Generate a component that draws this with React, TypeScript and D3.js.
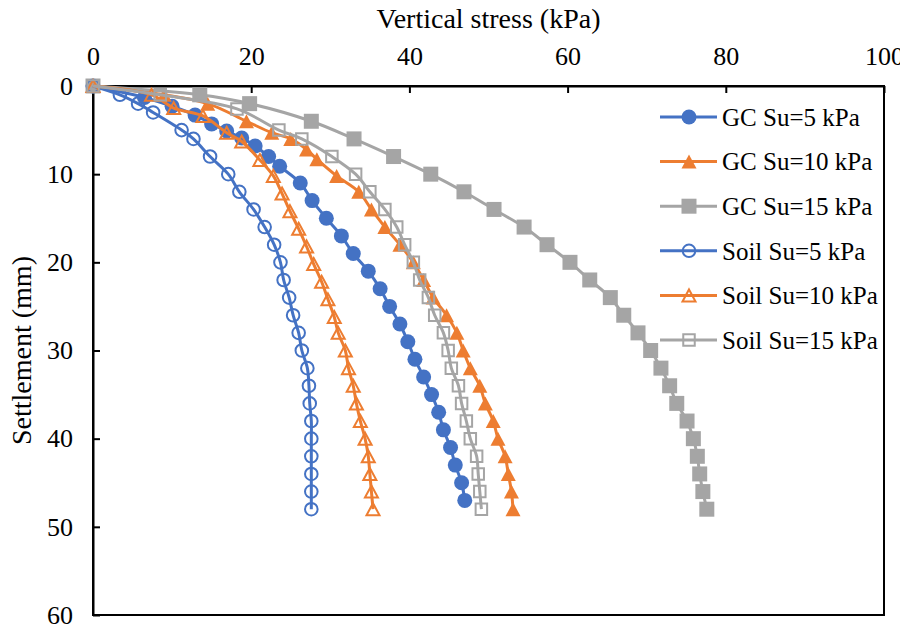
import React, { useEffect, useRef } from 'react';
import * as d3 from 'd3';

// [vertical stress (kPa), settlement (mm)]
const gcSu5: [number, number][] = [
  [0, 0], [6.5, 1.3], [10, 2.3], [12.9, 3.3], [15, 4.3], [16.9, 5.1], [18.8, 5.9],
  [20.5, 6.8], [22.2, 8], [23.6, 9.1], [26.2, 11], [27.7, 13], [29.5, 15], [31.4, 17],
  [32.9, 19], [34.8, 21], [36.3, 23], [37.5, 25], [38.8, 27], [39.8, 29], [40.7, 31],
  [41.8, 33], [42.8, 35], [43.7, 37], [44.3, 39], [45.2, 41], [45.8, 43], [46.6, 45], [47, 47],
];
const gcSu10: [number, number][] = [
  [0, 0], [9, 1], [14.5, 2], [19.4, 4], [22.6, 5.3], [25, 6], [27, 7.2], [28.3, 8.3],
  [30.8, 10.2], [33.6, 12], [35.2, 14], [36.9, 16], [38.8, 18], [40.5, 20], [41.8, 22],
  [43, 24], [44.7, 26], [46, 28], [46.8, 30], [47.7, 32], [48.9, 34], [49.6, 36],
  [50.6, 38], [51.2, 40], [52.1, 42], [52.5, 44], [52.9, 46], [53.1, 48],
];
const gcSu15: [number, number][] = [
  [0, 0], [13.5, 1], [19.8, 2], [27.6, 4], [33, 6], [38, 8], [42.7, 10], [46.9, 12],
  [50.7, 14], [54.5, 16], [57.4, 18], [60.3, 20], [62.8, 22], [65.4, 24], [67.1, 26],
  [68.9, 28], [70.5, 30], [71.8, 32], [72.9, 34], [73.8, 36], [75.1, 38], [75.9, 40],
  [76.4, 42], [76.7, 44], [77.1, 46], [77.6, 48],
];
const soilSu5: [number, number][] = [
  [0, 0], [3.4, 1], [5.7, 2], [7.6, 3], [11.2, 5], [12.7, 6], [14.8, 8], [17.1, 10],
  [18.5, 12], [20.3, 14], [21.7, 16], [22.9, 18], [23.7, 20], [24.1, 22], [24.8, 24],
  [25.3, 26], [26, 28], [26.4, 30], [27.1, 32], [27.3, 34], [27.4, 36], [27.6, 38],
  [27.6, 40], [27.6, 42], [27.6, 44], [27.6, 46], [27.6, 48],
];
const soilSu10: [number, number][] = [
  [0, 0], [7.4, 1], [10.2, 2.5], [13.9, 3.4], [16.9, 5.3], [18.8, 6.3], [21.1, 8.4],
  [22.8, 10.2], [23.9, 12.2], [24.9, 14.2], [26, 16.2], [27, 18.2], [27.9, 20.2],
  [28.9, 22.2], [29.7, 24.2], [30.5, 26.2], [31, 28], [31.9, 30], [32.3, 32], [32.9, 34],
  [33.3, 36], [33.8, 38], [34.4, 40], [34.8, 42], [35, 44], [35.2, 46], [35.4, 48],
];
const soilSu15: [number, number][] = [
  [0, 0], [8.5, 1], [18.2, 2.6], [23.5, 5], [26.4, 6], [30.2, 8], [33.2, 10], [35, 12],
  [36.9, 14], [38.4, 16], [39.4, 18], [40.5, 20], [41.3, 22], [42.4, 24], [43.2, 26],
  [44.3, 28], [44.9, 30], [45.3, 32], [46.2, 34], [46.6, 36], [47.2, 38], [47.7, 40],
  [48.5, 42], [48.7, 44], [48.9, 46], [49.1, 48],
];

const seriesNames = [
  'GC Su=5 kPa', 'GC Su=10 kPa', 'GC Su=15 kPa',
  'Soil Su=5 kPa', 'Soil Su=10 kPa', 'Soil Su=15 kPa',
];
const stressTicks = [0, 20, 40, 60, 80, 100];
const settlementTicks = [0, 10, 20, 30, 40, 50, 60];

const BLUE = '#4472C4';
const ORANGE = '#ED7D31';
const GRAY = '#A5A5A5';
const FONT = "'Liberation Serif', 'Times New Roman', serif";

type Shape = 'circle' | 'triangle' | 'square';

const series = [
  { name: seriesNames[0], data: gcSu5, color: BLUE, shape: 'circle' as Shape, filled: true },
  { name: seriesNames[1], data: gcSu10, color: ORANGE, shape: 'triangle' as Shape, filled: true },
  { name: seriesNames[2], data: gcSu15, color: GRAY, shape: 'square' as Shape, filled: true },
  { name: seriesNames[3], data: soilSu5, color: BLUE, shape: 'circle' as Shape, filled: false },
  { name: seriesNames[4], data: soilSu10, color: ORANGE, shape: 'triangle' as Shape, filled: false },
  { name: seriesNames[5], data: soilSu15, color: GRAY, shape: 'square' as Shape, filled: false },
];

// marker path centred on 0,0
const markerPath = (shape: Shape, filled: boolean) => {
  if (shape === 'circle') {
    const r = filled ? 7.5 : 6.3;
    return `M${-r},0A${r},${r} 0 1,0 ${r},0A${r},${r} 0 1,0 ${-r},0Z`;
  }
  if (shape === 'triangle') {
    const w = filled ? 15 : 13;
    const h = filled ? 14 : 12;
    return `M0,${-h / 2}L${w / 2},${h / 2}L${-w / 2},${h / 2}Z`;
  }
  const s = filled ? 15 : 11.5;
  return `M${-s / 2},${-s / 2}H${s / 2}V${s / 2}H${-s / 2}Z`;
};

const App = () => {
  const ref = useRef<SVGSVGElement>(null);

  useEffect(() => {
    const svg = d3.select(ref.current);
    svg.selectAll('*').remove();

    const left = 93;
    const right = 884;
    const top = 86;
    const bottom = 615;

    const x = d3.scaleLinear().domain([0, 100]).range([left, right]);
    const y = d3.scaleLinear().domain([0, 60]).range([top, bottom]);

    // frame
    svg.append('rect')
      .attr('x', left).attr('y', top)
      .attr('width', right - left).attr('height', bottom - top)
      .attr('fill', 'none').attr('stroke', '#000').attr('stroke-width', 2);

    const xAxis = svg.append('g')
      .attr('transform', `translate(0,${top})`)
      .call(d3.axisTop(x).tickValues(stressTicks).tickSizeInner(-7).tickSizeOuter(0).tickPadding(21));
    const yAxis = svg.append('g')
      .attr('transform', `translate(${left},0)`)
      .call(d3.axisLeft(y).tickValues(settlementTicks).tickSizeInner(-7).tickSizeOuter(0).tickPadding(20));

    [xAxis, yAxis].forEach(g => {
      g.attr('font-family', FONT).attr('font-size', 26);
      g.select('.domain').attr('stroke', '#000').attr('stroke-width', 2);
      g.selectAll('.tick line').attr('stroke', '#000').attr('stroke-width', 2);
      g.selectAll('.tick text')
        .attr('fill', '#000')
        .style('font-family', FONT)
        .style('font-size', '26px');
    });

    svg.append('text')
      .attr('x', (left + right) / 2).attr('y', 28)
      .attr('text-anchor', 'middle')
      .style('font-family', FONT).style('font-size', '28px')
      .text('Vertical stress (kPa)');

    svg.append('text')
      .attr('transform', `translate(31,${(top + bottom) / 2}) rotate(-90)`)
      .attr('text-anchor', 'middle')
      .style('font-family', FONT).style('font-size', '28px')
      .text('Settlement (mm)');

    const line = d3.line<[number, number]>()
      .x(d => x(d[0]))
      .y(d => y(d[1]))
      .curve(d3.curveCatmullRom.alpha(0.5));

    series.forEach(s => {
      const g = svg.append('g');
      g.append('path')
        .attr('d', line(s.data))
        .attr('fill', 'none')
        .attr('stroke', s.color)
        .attr('stroke-width', 3);
      g.selectAll('path.marker')
        .data(s.data)
        .enter()
        .append('path')
        .attr('class', 'marker')
        .attr('transform', d => `translate(${x(d[0])},${y(d[1])})`)
        .attr('d', markerPath(s.shape, s.filled))
        .attr('fill', s.filled ? s.color : 'none')
        .attr('stroke', s.color)
        .attr('stroke-width', s.filled ? 0 : 2);
    });

    // legend
    const legend = svg.append('g').attr('transform', 'translate(660,117)');
    const rows = legend.selectAll('g')
      .data(series)
      .enter()
      .append('g')
      .attr('transform', (d, i) => `translate(0,${i * 44.6})`);
    rows.append('line')
      .attr('x1', 0).attr('x2', 57)
      .attr('stroke', d => d.color).attr('stroke-width', 3);
    rows.append('path')
      .attr('transform', 'translate(29,0)')
      .attr('d', d => markerPath(d.shape, d.filled))
      .attr('fill', d => (d.filled ? d.color : 'none'))
      .attr('stroke', d => d.color)
      .attr('stroke-width', d => (d.filled ? 0 : 2));
    rows.append('text')
      .attr('x', 62).attr('dy', '0.35em')
      .style('font-family', FONT).style('font-size', '25px')
      .text(d => d.name);
  }, []);

  return <svg ref={ref} width={908} height={628} style={{ display: 'block', margin: '-8px 0 0 -8px' }} />;
};

export default App;
